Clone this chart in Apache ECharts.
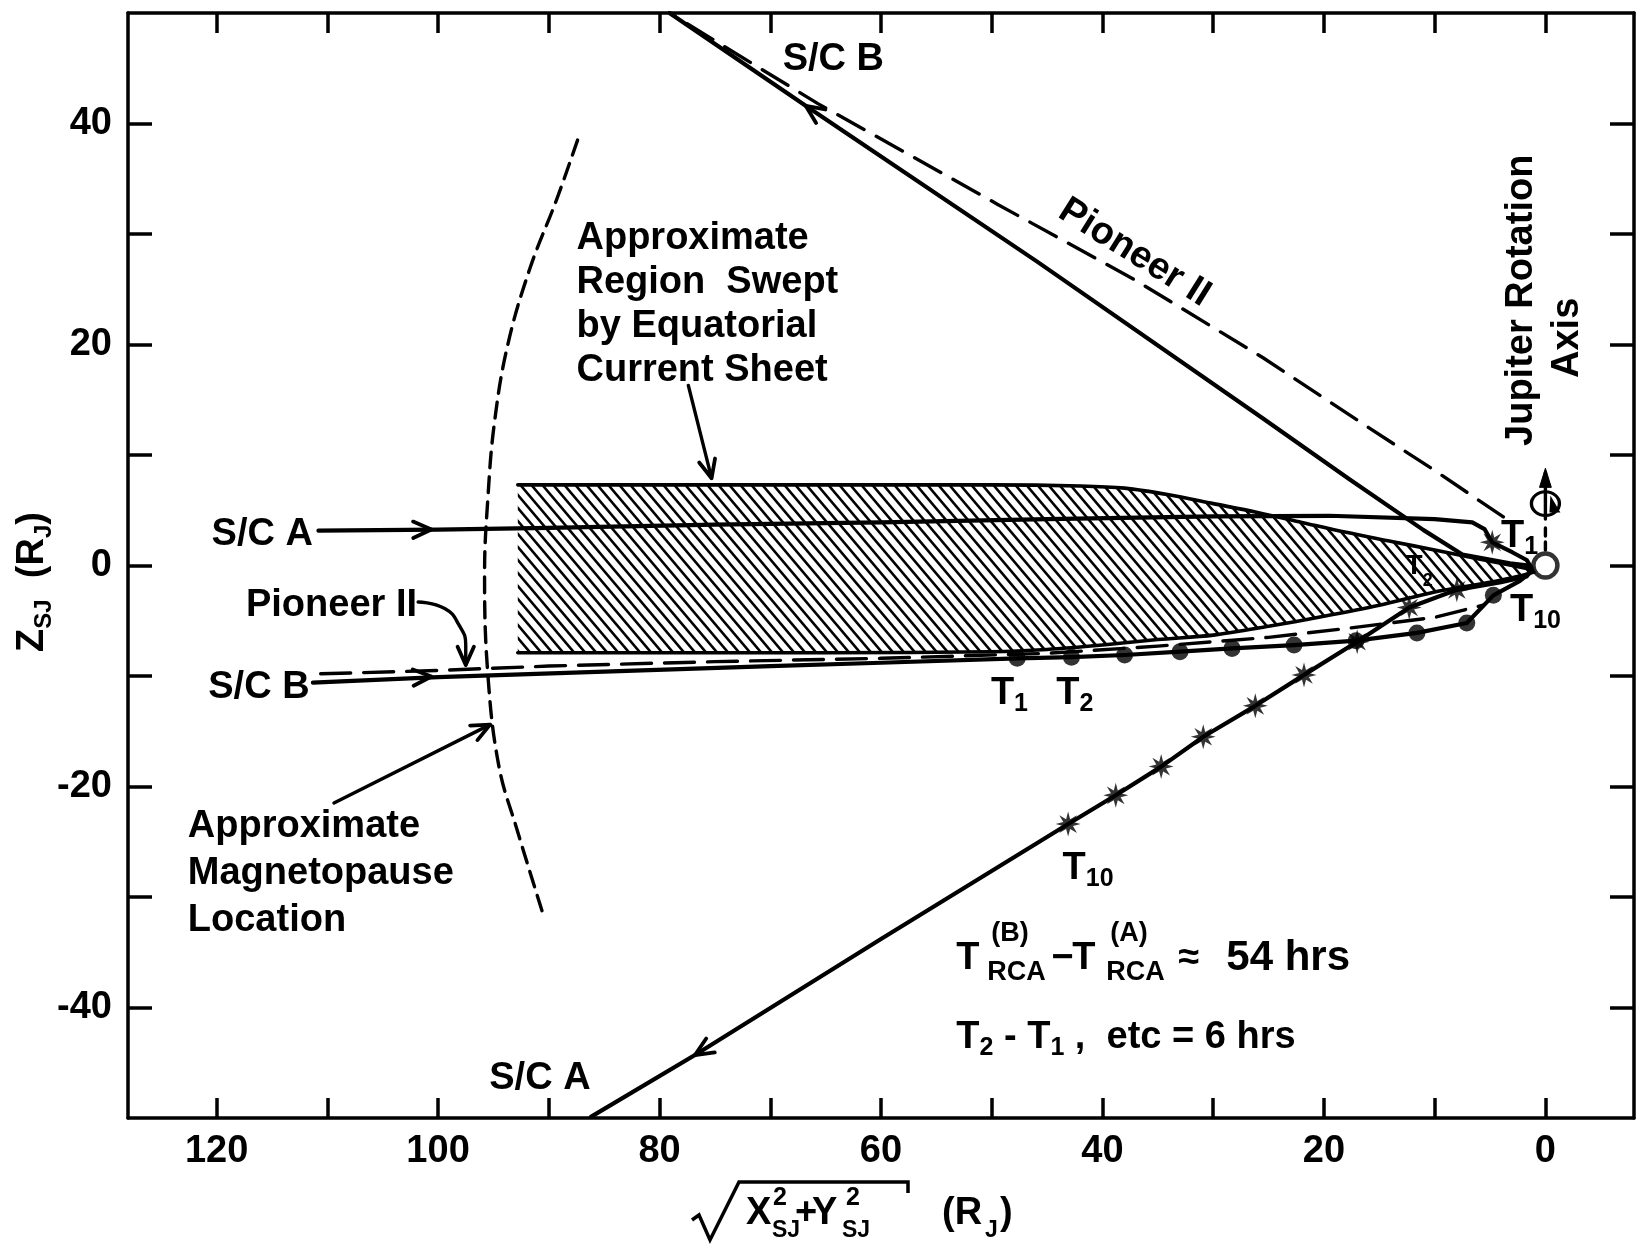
<!DOCTYPE html>
<html><head><meta charset="utf-8">
<script src="https://cdn.jsdelivr.net/npm/echarts@6/dist/echarts.min.js"></script>
<style>html,body{margin:0;padding:0;background:#fff}#c{width:1641px;height:1249px}</style>
</head><body><div id="c"></div>
<script>
// ---------------- DATA (X = sqrt(Xsj^2+Ysj^2), Z = Zsj ; both in RJ) ----------------
const xTickValues = [0,10,20,30,40,50,60,70,80,90,100,110,120];
const xLabelValues = [0,20,40,60,80,100,120];
const zTickValues = [-40,-30,-20,-10,0,10,20,30,40];
const zLabelValues = [-40,-20,0,20,40];

const scA = [[110.8,3.15],[100,3.25],[90,3.4],[75,3.7],[60,3.9],[45,4.2],[30,4.45],[19.5,4.5],[10,4.2],[6.6,3.9],[5.5,3.3],[5.1,2.6],[4.8,2.1],[3.0,1.2],[1.7,0.5],[1.2,-0.3],[1.7,-1.0],[4.0,-1.5],[8.0,-2.2],[12.3,-3.8],[17.0,-6.9],[21.8,-9.9],[26.2,-12.7],[30.9,-15.5],[34.7,-18.2],[38.8,-20.8],[43.1,-23.4],[60,-33.8],[76.8,-44.3],[86.2,-49.9]];
const scAStars = [[4.8,2.1],[8.0,-2.2],[12.3,-3.8],[17.0,-6.9],[21.8,-9.9],[26.2,-12.7],[30.9,-15.5],[34.7,-18.2],[38.8,-20.8],[43.1,-23.4]];
const scB = [[111.3,-10.6],[100,-10.1],[85,-9.6],[70,-9.1],[60,-8.8],[47.7,-8.4],[42.8,-8.3],[38.0,-8.1],[33.0,-7.8],[28.3,-7.5],[22.7,-7.2],[17.1,-6.8],[11.6,-6.1],[7.1,-5.2],[4.7,-2.7],[2.3,-1.4],[1.3,-0.6],[1.5,0.0],[3.2,0.2],[7.5,1.0],[11.0,3.2],[17.7,7.8],[25.5,13.3],[45.9,27.5],[66.8,41.6],[79.1,50]];
const scBDots = [[47.7,-8.4],[42.8,-8.3],[38.0,-8.1],[33.0,-7.8],[28.3,-7.5],[22.7,-7.2],[17.1,-6.8],[11.6,-6.1],[7.1,-5.2],[4.7,-2.7]];
const pioneerIn = [[110.6,-9.8],[100,-9.5],[90,-9.1],[75,-8.7],[60,-8.4],[45,-7.95],[35,-7.3],[25,-6.5],[18,-5.7],[10,-4.7],[5.7,-3.6]];
const pioneerOut = [[3.8,4.4],[10,8.6],[16,12.5],[25.5,18.8],[37,25.8],[49.5,32.7],[65.7,41.8],[79.1,50]];
const sheetTop = [[92.8,7.3],[80,7.3],[65,7.3],[50,7.3],[42,7.2],[38,7.0],[34,6.4],[30,5.6],[26,4.8],[22,3.9],[18,3.0],[14,2.2],[10,1.4],[6,0.6],[3,0.0],[1,-0.4]];
const sheetBottom = [[92.8,-7.9],[80,-7.9],[65,-7.9],[50,-7.8],[45,-7.6],[40,-7.2],[35,-6.7],[30,-6.3],[25,-5.5],[20,-4.6],[15,-3.6],[10,-2.4],[6,-1.7],[3,-1.1],[1,-0.6]];
const magnetopause = [[87.4,38.5],[89.3,33.1],[91.7,26.9],[93.7,20.0],[94.9,13.0],[95.5,6.1],[95.8,-0.8],[95.5,-9.9],[94.5,-18.2],[92.9,-23.8],[90.5,-31.6]];
const jupiter = [[0,0]];
const rotAxisSolid = [[0,8.4],[0,4.2]];
const rotAxisDash = [[0,3.4],[0,1.2]];
const rotSymbol = [[0,5.6]];
const currentSheetArrow = [[77.4,16.3],[75.3,7.9]];
const magnetopauseArrow = [[109.4,-21.5],[95.3,-14.4]];
const pioneerArrow = [[101.8,-3.3],[99.4,-3.9],[98.1,-5.4],[97.5,-7.2],[97.5,-9.0]];
// [tipX, tipZ, fromX, fromZ]
const arrowHeads = [[100.6,3.25,106,3.2],[100.6,-10.05,106,-10.35],[66.8,41.6,60,36.9],[76.8,-44.3,70,-40.1],[75.3,7.9,77.4,16.3],[95.3,-14.4,109.4,-21.5],[97.5,-9.0,97.5,-7.2]];
const axisArrowHeads = [[0,8.8,0,6.0]];

const annotationTexts = [
  'S/C B', 'Pioneer II', 'Approximate\nRegion  Swept\nby Equatorial\nCurrent Sheet',
  'Approximate\nMagnetopause\nLocation', 'S/C A', 'Pioneer II', 'S/C B',
  '{t|T}{s|1}', '{t|T}{s|2}', '{t|T}{s|10}', '{t|T}{s|1}', '{t|T}{s|2}', '{t|T}{s|10}',
  'S/C A', '{t|T}{s|2}{t| - T}{s|1}{t| ,  etc = 6 hrs}', 'Jupiter Rotation', 'Axis'
];
const annotationAnchors = [
  [64.3,45.8],[37.1,28.3],[87.5,23.6],[122.6,-27.9],[111.3,2.8],[101.9,-3.6],[111.6,-11.0],
  [48.4,-11.6],[42.5,-11.6],[3.2,-4.1],[4.0,2.6],[11.4,-0.1],[41.3,-27.4],
  [90.8,-46.4],[53.2,-42.7],[2.2,24.0],[-2.0,20.6]
];
const formulaAnchor = [[53.2,-35.6]];
const formulaParts = ['T', '(B)', 'RCA', '\u2212', 'T', '(A)', 'RCA', '\u2248', '54 hrs'];

// ---------------- STYLE ----------------
const FONT = '"Liberation Sans", Arial, Helvetica, sans-serif';
const BLACK = '#000';
const FS = 38;
const annotationStyle = [
  {align:'center'}, {align:'center', rot:-32}, {align:'left', lh:44}, {align:'left', lh:47},
  {align:'right'}, {align:'right'}, {align:'right'},
  {align:'center'}, {align:'center'}, {align:'left'}, {align:'left'}, {align:'center', fs:28}, {align:'center'},
  {align:'center'}, {align:'left'}, {align:'center', rot:90}, {align:'center', rot:90}
];
// [dx, dy, fontSize] of each formula part relative to its anchor
const formulaLayout = [[0,0,FS],[35,-25,27],[31,14,27],[95,0,FS],[116,0,FS],[154,-25,27],[150,14,27],[222,0,FS],[270,0,42]];
const richT = {
  t:{fontSize:FS, lineHeight:46, fontFamily:FONT, fontWeight:'bold', fill:BLACK},
  s:{fontSize:25, lineHeight:20, verticalAlign:'bottom', fontFamily:FONT, fontWeight:'bold', fill:BLACK}
};

function makeHatch(){
  const w = 11, h = 13;
  const cv = document.createElement('canvas');
  cv.width = w; cv.height = h;
  const ctx = cv.getContext('2d');
  ctx.fillStyle = '#fff'; ctx.fillRect(0,0,w,h);
  ctx.strokeStyle = '#000'; ctx.lineWidth = 2.6; ctx.lineCap = 'square';
  for (const off of [-w, 0, w]) {
    ctx.beginPath(); ctx.moveTo(off, 0); ctx.lineTo(off + w, h); ctx.stroke();
  }
  return cv;
}
const hatchImg = makeHatch();

function starPath(n, R, r){
  let d = '';
  for (let i = 0; i < 2*n; i++) {
    const a = Math.PI*i/n - Math.PI/2, rr = i%2 ? r : R;
    d += (i ? 'L' : 'M') + (rr*Math.cos(a)).toFixed(2) + ',' + (rr*Math.sin(a)).toFixed(2);
  }
  return 'path://' + d + 'Z';
}

function headPts(tip, from, len, ang){
  const dx = tip[0]-from[0], dy = tip[1]-from[1];
  const d = Math.hypot(dx,dy) || 1, ux = dx/d, uy = dy/d;
  const c = Math.cos(ang), s = Math.sin(ang);
  return [
    [tip[0] - len*(ux*c - uy*s), tip[1] - len*(uy*c + ux*s)],
    tip,
    [tip[0] - len*(ux*c + uy*s), tip[1] - len*(uy*c - ux*s)]
  ];
}

function lineSeries(data, opts){
  opts = opts || {};
  return {
    type:'line', data:data, showSymbol:false, symbol:'none', silent:true, z: opts.z || 3,
    smooth: opts.smooth || false, clip:true,
    lineStyle:{color:BLACK, width: opts.width || 4.2, type: opts.dash || 'solid', cap:'round', join:'round'}
  };
}

const chart = echarts.init(document.getElementById('c'));
const axisLineStyle = {color:BLACK, width:3.5};
const tickFont = {color:BLACK, fontSize:FS, fontWeight:'bold', fontFamily:FONT};
const txt = (t, x, y, fs, extra) => Object.assign({type:'text', x:x, y:y, z:10,
  style:{text:t, fontSize:fs, fontWeight:'bold', fontFamily:FONT, fill:BLACK, align:'left', verticalAlign:'middle'}}, extra || {});
const option = {
  animation:false,
  backgroundColor:'#fff',
  grid:{left:128, right:7, top:13, bottom:131, containLabel:false, outerBoundsMode:'none'},
  xAxis:[
    {type:'value', min:-8, max:128, inverse:true, position:'bottom',
     axisLine:{show:true, onZero:false, lineStyle:axisLineStyle},
     axisTick:{show:true, inside:true, length:20, customValues:xTickValues, lineStyle:axisLineStyle},
     axisLabel:Object.assign({show:true, customValues:xLabelValues, margin:15}, tickFont),
     splitLine:{show:false}},
    {type:'value', min:-8, max:128, inverse:true, position:'top',
     axisLine:{show:true, onZero:false, lineStyle:axisLineStyle},
     axisTick:{show:true, inside:true, length:20, customValues:xTickValues, lineStyle:axisLineStyle},
     axisLabel:{show:false}, splitLine:{show:false}}
  ],
  yAxis:[
    {type:'value', min:-50, max:50, position:'left',
     axisLine:{show:true, onZero:false, lineStyle:axisLineStyle},
     axisTick:{show:true, inside:true, length:24, customValues:zTickValues, lineStyle:axisLineStyle},
     axisLabel:Object.assign({show:true, customValues:zLabelValues, margin:16}, tickFont),
     splitLine:{show:false}},
    {type:'value', min:-50, max:50, position:'right',
     axisLine:{show:true, onZero:false, lineStyle:axisLineStyle},
     axisTick:{show:true, inside:true, length:24, customValues:zTickValues, lineStyle:axisLineStyle},
     axisLabel:{show:false}, splitLine:{show:false}}
  ],
  graphic:[
    {type:'text', x:33, y:582, rotation:Math.PI/2, z:10,
     style:{text:'{m|Z}{s|SJ}{m|  (R}{s|J}{m|)}', align:'center', verticalAlign:'middle', fill:BLACK,
       rich:{m:{fontSize:FS, lineHeight:46, fontFamily:FONT, fontWeight:'bold', fill:BLACK},
             s:{fontSize:24, lineHeight:20, verticalAlign:'bottom', fontFamily:FONT, fontWeight:'bold', fill:BLACK}}}},
    {type:'polyline', z:10, shape:{points:[[692,1220],[699,1215],[710,1240],[739,1182],[908,1182],[908,1193]]},
     style:{stroke:BLACK, lineWidth:3.5, fill:null}},
    txt('X', 746, 1214, FS),
    txt('2', 773, 1198, 25),
    txt('SJ', 772, 1231, 23),
    txt('+', 795, 1214, FS),
    txt('Y', 812, 1214, FS),
    txt('2', 846, 1198, 25),
    txt('SJ', 842, 1231, 23),
    txt('(R', 942, 1214, FS),
    txt('J', 985, 1231, 23),
    txt(')', 1000, 1214, FS)
  ],
  series:[
    // hatched current-sheet region
    {type:'custom', z:1, silent:true, clip:true, data:[sheetTop[0]],
     renderItem:function(params, api){
       const pts = sheetTop.map(p => api.coord(p)).concat(sheetBottom.slice().reverse().map(p => api.coord(p)));
       return {type:'polygon', shape:{points:pts}, style:{fill:{image:hatchImg, repeat:'repeat'}, stroke:null}};
     }},
    lineSeries(sheetTop, {smooth:0.3, width:3.6}),
    lineSeries(sheetBottom, {smooth:0.3, width:3.6}),
    lineSeries(magnetopause, {smooth:0.4, width:3.4, dash:[16,9]}),
    lineSeries(scA),
    lineSeries(scB),
    lineSeries(pioneerIn, {width:3.4, dash:[30,13]}),
    lineSeries(pioneerOut, {width:3.4, dash:[30,14]}),
    lineSeries(currentSheetArrow, {width:3.4}),
    lineSeries(magnetopauseArrow, {width:3.4}),
    lineSeries(pioneerArrow, {width:3.4, smooth:0.5}),
    lineSeries(rotAxisSolid, {width:3.4}),
    lineSeries(rotAxisDash, {width:3.4, dash:[8,6]}),
    // open V arrow heads
    {type:'custom', z:4, silent:true, clip:false, data:arrowHeads, dimensions:['x','y','fx','fy'], encode:{x:0, y:1},
     renderItem:function(params, api){
       const tip = api.coord([api.value(0), api.value(1)]);
       const from = api.coord([api.value(2), api.value(3)]);
       return {type:'polyline', shape:{points:headPts(tip, from, 20, 0.42)},
               style:{stroke:BLACK, lineWidth:3.8, fill:null, lineJoin:'round', lineCap:'round'}};
     }},
    // filled arrow head of rotation axis
    {type:'custom', z:4, silent:true, clip:false, data:axisArrowHeads, dimensions:['x','y','fx','fy'], encode:{x:0, y:1},
     renderItem:function(params, api){
       const tip = api.coord([api.value(0), api.value(1)]);
       const from = api.coord([api.value(2), api.value(3)]);
       return {type:'polygon', shape:{points:headPts(tip, from, 20, 0.3)}, style:{fill:BLACK, stroke:BLACK, lineWidth:1}};
     }},
    // rotation symbol (circulating arrow around the axis)
    {type:'custom', z:4, silent:true, clip:false, data:rotSymbol,
     renderItem:function(params, api){
       const p = api.coord([api.value(0), api.value(1)]);
       return {type:'group', x:p[0], y:p[1], children:[
         {type:'circle', shape:{cx:0, cy:0, r:14}, scaleY:0.85, style:{fill:null, stroke:BLACK, lineWidth:3.4}},
         {type:'polygon', shape:{points:[[5,-8],[15,9],[4,9]]}, style:{fill:BLACK}}
       ]};
     }},
    // S/C B time marks (dots)
    {type:'scatter', z:5, silent:true, data:scBDots, symbol:'circle', symbolSize:17, itemStyle:{color:BLACK}},
    // S/C A time marks (asterisks)
    {type:'scatter', z:5, silent:true, data:scAStars, symbol:starPath(8, 10, 4.2), symbolSize:25, itemStyle:{color:BLACK}},
    // Jupiter
    {type:'scatter', z:6, silent:true, data:jupiter, symbol:'circle', symbolSize:24,
     itemStyle:{color:'#fff', borderColor:BLACK, borderWidth:4.5}},
    // text annotations
    {type:'custom', z:8, silent:true, clip:false,
     data:annotationAnchors.map((p, i) => [p[0], p[1], i]), dimensions:['x','y','i'], encode:{x:0, y:1},
     renderItem:function(params, api){
       const p = api.coord([api.value(0), api.value(1)]);
       const i = api.value(2);
       const st = annotationStyle[i];
       const t = annotationTexts[i];
       const style = {text:t, fill:BLACK, fontSize:st.fs || FS, fontWeight:'bold', fontFamily:FONT,
                      align:st.align, verticalAlign:'middle'};
       if (st.lh) style.lineHeight = st.lh;
       if (t.indexOf('{t|') >= 0) {
         const r = JSON.parse(JSON.stringify(richT));
         if (st.fs) { r.t.fontSize = st.fs; r.s.fontSize = Math.round(st.fs*0.65); }
         style.rich = r;
       }
       return {type:'text', x:p[0], y:p[1], rotation:(st.rot || 0)*Math.PI/180, style:style};
     }},
    // T_RCA formula
    {type:'custom', z:8, silent:true, clip:false, data:formulaAnchor,
     renderItem:function(params, api){
       const p = api.coord([api.value(0), api.value(1)]);
       return {type:'group', children:formulaParts.map((t, k) => ({type:'text',
         x:p[0] + formulaLayout[k][0], y:p[1] + formulaLayout[k][1],
         style:{text:t, fill:BLACK, fontSize:formulaLayout[k][2], fontWeight:'bold', fontFamily:FONT,
                align:'left', verticalAlign:'middle'}}))};
     }}
  ]
};
chart.setOption(option);
</script>
</body></html>
